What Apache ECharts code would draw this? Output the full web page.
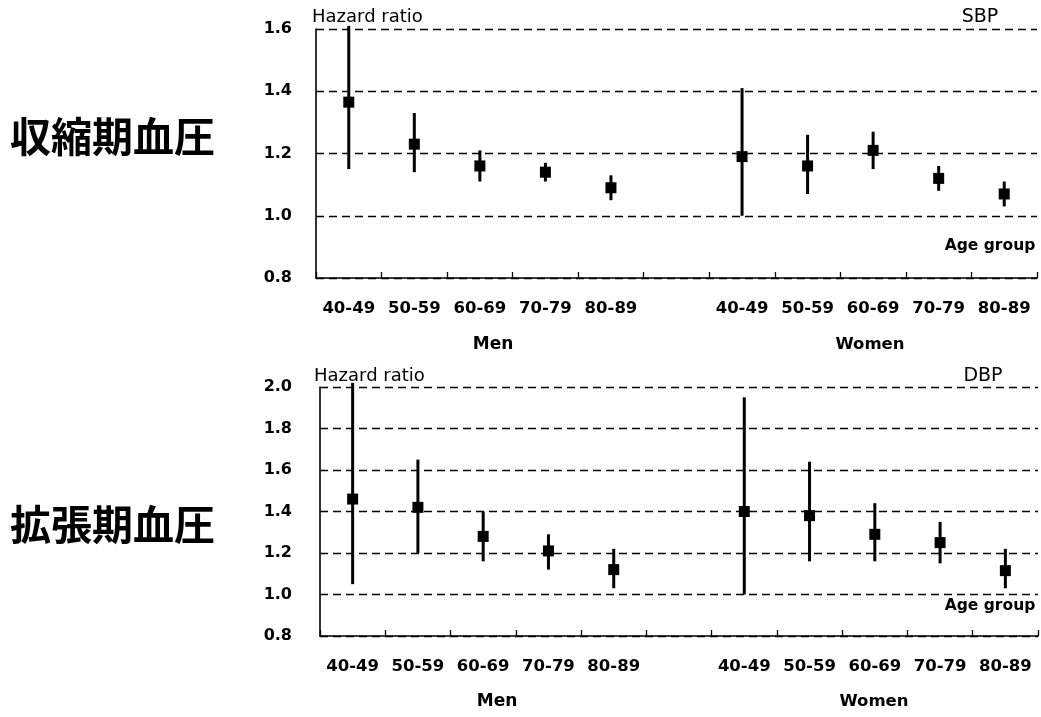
<!DOCTYPE html>
<html><head><meta charset="utf-8">
<script src="https://cdn.jsdelivr.net/npm/echarts@6/dist/echarts.min.js"></script>
<style>html,body{margin:0;padding:0;background:#fff}#c{width:1041px;height:717px}</style>
</head><body><div id="c"></div>
<script>
const categories = ['40-49','50-59','60-69','70-79','80-89','','40-49','50-59','60-69','70-79','80-89'];
const sbpHR   = [1.365,1.23,1.16,1.14,1.09,null,1.19,1.16,1.21,1.12,1.07];
const sbpLow  = [1.15,1.14,1.11,1.11,1.05,null,1.00,1.07,1.15,1.08,1.03];
const sbpHigh = [1.61,1.33,1.21,1.17,1.13,null,1.41,1.26,1.27,1.16,1.11];
const dbpHR   = [1.46,1.42,1.28,1.21,1.12,null,1.40,1.38,1.29,1.25,1.115];
const dbpLow  = [1.05,1.20,1.16,1.12,1.03,null,1.00,1.16,1.16,1.15,1.03];
const dbpHigh = [2.02,1.65,1.40,1.29,1.22,null,1.95,1.64,1.44,1.35,1.22];
const sbpTicks = {min:0.8, max:1.6, interval:0.2};
const dbpTicks = {min:0.8, max:2.0, interval:0.2};

const FONT = '"DejaVu Sans", Verdana, sans-serif';
const chart = echarts.init(document.getElementById('c'), null, {renderer:'canvas'});

function bars(low, high){
  return low.map((l,i)=> l==null ? null : [i, l, high[i]]).filter(d=>d);
}
function pts(hr){
  return hr.map((v,i)=> v==null ? null : [i, v]).filter(d=>d);
}
function renderBar(params, api){
  const p1 = api.coord([api.value(0), api.value(1)]);
  const p2 = api.coord([api.value(0), api.value(2)]);
  return {type:'line', shape:{x1:p1[0], y1:p1[1], x2:p2[0], y2:p2[1]},
          style:{stroke:'#000', lineWidth:3}};
}
function xAxisCfg(idx){
  return {type:'category', gridIndex:idx, data:categories, boundaryGap:true,
    axisLine:{lineStyle:{color:'#000', width:1.6}},
    axisTick:{show:true, inside:true, interval:0, length:6, lineStyle:{color:'#000', width:1.3}},
    axisLabel:{color:'#000', fontFamily:FONT, fontWeight:'bold', fontSize:16.5, margin:22, interval:0},
    splitLine:{show:false}};
}
function yAxisCfg(idx, t, margin){
  return {type:'value', gridIndex:idx, min:t.min, max:t.max, interval:t.interval,
    axisLine:{show:true, lineStyle:{color:'#000', width:1.6}},
    axisTick:{show:false},
    axisLabel:{color:'#000', fontFamily:FONT, fontWeight:'bold', fontSize:16, margin:margin,
      formatter:v=>v.toFixed(1)},
    splitLine:{show:true, lineStyle:{color:'#000', width:1.3, type:[8,5]}}};
}
const txt = (x,y,text,size,weight,align)=>({type:'text', x:x, y:y, z:10,
  style:{text:text, fill:'#000', font:(weight||'normal')+' '+size+'px '+FONT, textAlign:align||'left', textVerticalAlign:'middle'}});
const jtxt = (x,y,text)=>({type:'text', x:x, y:y,
  style:{text:text, fill:'#000', font:'bold 41px "Noto Sans CJK JP", sans-serif', textAlign:'left', textVerticalAlign:'middle'}});

chart.setOption({
  animation:false,
  grid:[
    {left:316, top:29, right:4, height:249},
    {left:320, top:387, right:3, height:249}
  ],
  xAxis:[xAxisCfg(0), xAxisCfg(1)],
  yAxis:[yAxisCfg(0, sbpTicks, 24), yAxisCfg(1, dbpTicks, 28)],
  series:[
    {type:'custom', xAxisIndex:0, yAxisIndex:0, renderItem:renderBar, data:bars(sbpLow, sbpHigh), clip:false, z:2},
    {type:'scatter', xAxisIndex:0, yAxisIndex:0, symbol:'rect', symbolSize:[11,11], itemStyle:{color:'#000', opacity:1}, data:pts(sbpHR), z:3},
    {type:'custom', xAxisIndex:1, yAxisIndex:1, renderItem:renderBar, data:bars(dbpLow, dbpHigh), clip:false, z:2},
    {type:'scatter', xAxisIndex:1, yAxisIndex:1, symbol:'rect', symbolSize:[11,11], itemStyle:{color:'#000', opacity:1}, data:pts(dbpHR), z:3}
  ],
  graphic:[
    txt(312,17,'Hazard ratio',18),
    txt(980,17,'SBP',19,'normal','center'),
    txt(990,246,'Age group',15.5,'bold','center'),
    txt(493,345,'Men',17,'bold','center'),
    txt(870,345,'Women',16.5,'bold','center'),
    txt(314,376,'Hazard ratio',18),
    txt(983,376,'DBP',19,'normal','center'),
    txt(990,606,'Age group',15.5,'bold','center'),
    txt(497,702,'Men',17,'bold','center'),
    txt(874,702,'Women',16.5,'bold','center'),
    jtxt(10,136,'収縮期血圧'),
    jtxt(10,524,'拡張期血圧')
  ]
});
</script></body></html>
